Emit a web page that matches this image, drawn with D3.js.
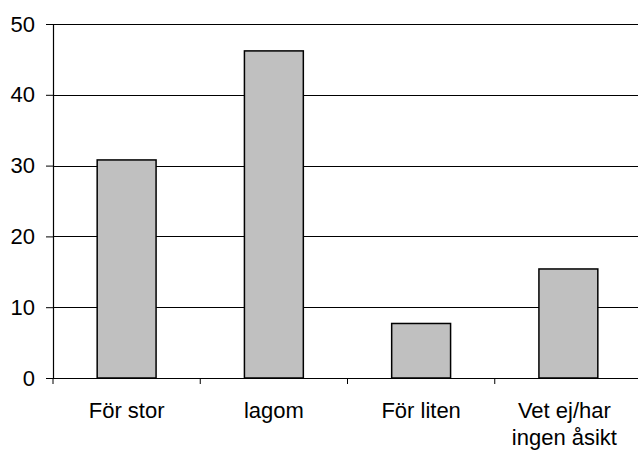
<!DOCTYPE html>
<html><head><meta charset="utf-8">
<script src="https://cdn.jsdelivr.net/npm/d3@7"></script>
<style>html,body{margin:0;padding:0;background:#fff;overflow:hidden;}svg{display:block;}</style>
</head><body>
<script>
const categories = ["För stor", "lagom", "För liten", "Vet ej/har ingen åsikt"];
const categoryLines = [["För stor"], ["lagom"], ["För liten"], ["Vet ej/har", "ingen åsikt"]];
const values = [30.8, 46.2, 7.7, 15.4];
const yTicks = [0, 10, 20, 30, 40, 50];

const W = 638, H = 450;
const mLeft = 53, mRight = 642, mTop = 24, mBottom = 378;
const svg = d3.select("body").append("svg").attr("width", W).attr("height", H);
const font = "'Liberation Sans', Arial, sans-serif";

const x = d3.scaleBand().domain(categories).range([mLeft, mRight]).paddingInner(0.6).paddingOuter(0.3);
const xb = d3.scaleBand().domain(categories).range([mLeft, mRight]);
const y = d3.scaleLinear().domain([0, 50]).range([mBottom, mTop]);

// gridlines
svg.append("g").selectAll("line").data(yTicks.filter(d => d > 0)).join("line")
  .attr("x1", mLeft).attr("x2", mRight)
  .attr("y1", d => Math.round(y(d)) + 0.5).attr("y2", d => Math.round(y(d)) + 0.5)
  .attr("stroke", "#000").attr("stroke-width", 1);

// bars
svg.append("g").selectAll("rect").data(values).join("rect")
  .attr("x", (d, i) => x(categories[i]))
  .attr("width", x.bandwidth())
  .attr("y", d => y(d))
  .attr("height", d => y(0) - y(d))
  .attr("fill", "#c0c0c0").attr("stroke", "#000").attr("stroke-width", 1.5);

// y axis
const ya = svg.append("g").attr("transform", `translate(${mLeft},0)`)
  .call(d3.axisLeft(y).tickValues(yTicks).tickSize(7).tickPadding(11).tickFormat(d3.format("d")));
ya.select(".domain").attr("stroke", "#000").attr("stroke-width", 1.2);
ya.selectAll(".tick line").attr("stroke", "#000");
ya.selectAll("text").attr("font-family", font).attr("font-size", 22).attr("fill", "#000");

// x axis
const xa = svg.append("g").attr("transform", `translate(0,${mBottom})`)
  .call(d3.axisBottom(xb).tickSize(0).tickFormat(""));
xa.select(".domain").attr("stroke", "#000").attr("stroke-width", 1.2);
xa.selectAll(".tick").remove();
svg.append("g").selectAll("line").data(categories).join("line")
  .attr("x1", d => xb(d)).attr("x2", d => xb(d))
  .attr("y1", mBottom).attr("y2", mBottom + 6)
  .attr("stroke", "#000").attr("stroke-width", 1);

// category labels
const lab = svg.append("g").selectAll("text").data(categories).join("text")
  .attr("x", d => xb(d) + xb.bandwidth() / 2)
  .attr("y", 418)
  .attr("text-anchor", "middle")
  .attr("font-family", font).attr("font-size", 22).attr("fill", "#000");
lab.each(function(d, i) {
  const t = d3.select(this);
  const cx = xb(d) + xb.bandwidth() / 2 - (categoryLines[i].length > 1 ? 4 : 0);
  categoryLines[i].forEach((ln, j) => {
    t.append("tspan").attr("x", cx).attr("dy", j === 0 ? 0 : 27).text(ln);
  });
});
</script>
</body></html>
